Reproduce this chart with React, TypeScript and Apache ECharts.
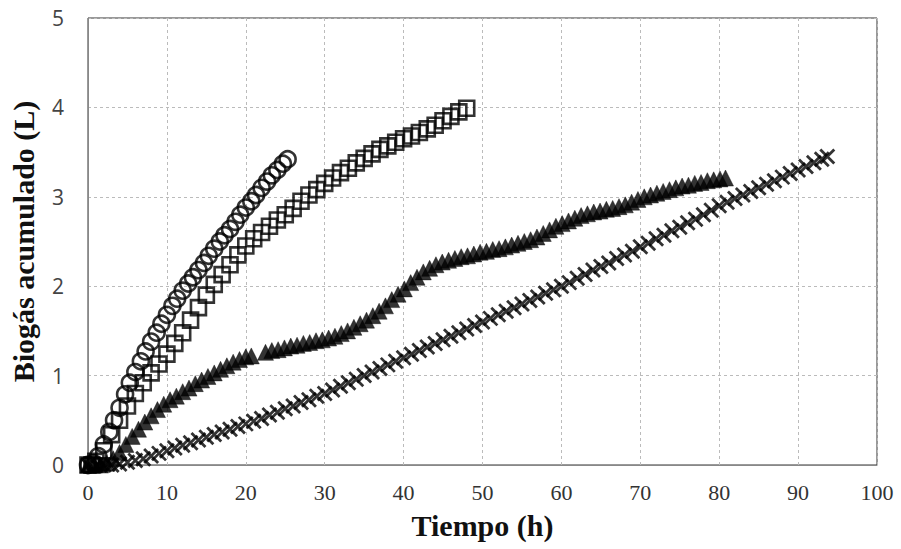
import React, { useEffect, useRef } from "react";
import * as echarts from "echarts";

const xTicks = [0, 10, 20, 30, 40, 50, 60, 70, 80, 90, 100];
const yTicks = [0, 1, 2, 3, 4, 5];

// Open circles
const circleData: number[][] = [
  [0, 0], [0.7, 0.02], [1.3, 0.1], [2, 0.23], [2.7, 0.37], [3.3, 0.5], [4, 0.64], [4.7, 0.79],
  [5.3, 0.92], [6, 1.04], [6.7, 1.16], [7.3, 1.27], [8, 1.38], [8.7, 1.48], [9.3, 1.58], [10, 1.68],
  [10.7, 1.78], [11.3, 1.86], [12, 1.95], [12.7, 2.03], [13.3, 2.1], [14, 2.18], [14.7, 2.26],
  [15.3, 2.34], [16, 2.42], [16.7, 2.5], [17.3, 2.57], [18, 2.64], [18.7, 2.72], [19.3, 2.8],
  [20, 2.88], [20.7, 2.95], [21.3, 3.02], [22, 3.1], [22.7, 3.17], [23.3, 3.24], [24, 3.3],
  [24.7, 3.37], [25.3, 3.42],
];

// Open squares
const squareData: number[][] = [
  [0, 0], [0.5, 0], [1, 0.04], [2, 0.16], [3, 0.34], [4, 0.5], [5, 0.66], [6, 0.8], [7, 0.92], [8, 1.03],
  [9, 1.13], [10, 1.24], [11, 1.36], [12, 1.48], [13, 1.62], [14, 1.76], [15, 1.9], [16, 2.02],
  [17, 2.13], [18, 2.24], [19, 2.35], [20, 2.45], [21, 2.53], [22, 2.6], [23, 2.67], [24, 2.74],
  [25, 2.8], [26, 2.87], [27, 2.95], [28, 3.02], [29, 3.08], [30, 3.15], [31, 3.21], [32, 3.27],
  [33, 3.32], [34, 3.38], [35, 3.43], [36, 3.48], [37, 3.53], [38, 3.57], [39, 3.61], [40, 3.65],
  [41, 3.68], [42, 3.72], [43, 3.76], [44, 3.8], [45, 3.85], [46, 3.9], [47, 3.95], [48, 3.99],
];

// Filled triangles
const triangleData: number[][] = [
  [0, 0], [0.8, 0], [1.6, 0], [2.4, 0.02], [3.2, 0.07], [4, 0.14], [4.8, 0.23], [5.6, 0.32],
  [6.4, 0.4], [7.2, 0.48], [8, 0.55], [8.8, 0.62], [9.6, 0.68], [10.4, 0.73], [11.2, 0.77],
  [12, 0.82], [12.8, 0.86], [13.6, 0.91], [14.4, 0.95], [15.2, 0.99], [16, 1.03], [16.8, 1.07],
  [17.6, 1.11], [18.4, 1.15], [19.2, 1.18], [20, 1.21], [20.7, 1.22],
  [22.5, 1.26], [23.3, 1.28], [24.1, 1.29], [24.9, 1.31], [25.7, 1.33], [26.5, 1.34], [27.3, 1.36],
  [28.1, 1.37], [28.9, 1.39], [29.7, 1.4], [30.5, 1.42], [31.3, 1.44], [32.1, 1.47], [32.9, 1.5],
  [33.7, 1.54], [34.5, 1.58], [35.3, 1.62], [36.1, 1.67], [36.9, 1.72], [37.7, 1.78], [38.5, 1.85],
  [39.3, 1.91], [40.1, 1.97], [40.9, 2.04], [41.7, 2.1], [42.5, 2.16], [43.3, 2.2], [44.1, 2.24],
  [44.9, 2.27], [45.7, 2.29], [46.5, 2.31], [47.3, 2.33], [48.1, 2.34], [48.9, 2.36], [49.7, 2.38],
  [50.5, 2.39], [51.3, 2.41], [52.1, 2.42], [52.9, 2.44], [53.7, 2.46], [54.5, 2.48], [55.3, 2.5],
  [56.1, 2.52], [56.9, 2.55], [57.7, 2.59], [58.5, 2.63], [59.3, 2.67], [60.1, 2.7], [60.9, 2.73],
  [61.7, 2.76], [62.5, 2.79], [63.3, 2.81], [64.1, 2.83], [64.9, 2.84], [65.7, 2.86], [66.5, 2.87],
  [67.3, 2.89], [68.1, 2.91], [68.9, 2.94], [69.7, 2.97], [70.5, 3.0], [71.3, 3.02], [72.1, 3.04],
  [72.9, 3.06], [73.7, 3.08], [74.5, 3.1], [75.3, 3.12], [76.1, 3.13], [76.9, 3.15], [77.7, 3.16],
  [78.5, 3.18], [79.3, 3.19], [80.1, 3.2], [80.8, 3.21],
];

// Crosses
const crossData: number[][] = [
  [0, 0], [1, 0], [2, 0], [3, 0], [4, 0.01], [5, 0.03], [6, 0.05], [7, 0.07], [8, 0.1], [9, 0.13],
  [10, 0.16], [11, 0.19], [12, 0.22], [13, 0.25], [14, 0.28], [15, 0.31], [16, 0.34], [17, 0.37],
  [18, 0.4], [19, 0.43], [20, 0.46], [21, 0.49], [22, 0.52], [23, 0.56], [24, 0.59], [25, 0.63],
  [26, 0.66], [27, 0.7], [28, 0.73], [29, 0.77], [30, 0.8], [31, 0.84], [32, 0.88], [33, 0.92],
  [34, 0.96], [35, 1.0], [36, 1.04], [37, 1.08], [38, 1.12], [39, 1.16], [40, 1.2], [41, 1.24],
  [42, 1.28], [43, 1.32], [44, 1.36], [45, 1.4], [46, 1.44], [47, 1.48], [48, 1.52], [49, 1.56],
  [50, 1.6], [51, 1.64], [52, 1.68], [53, 1.72], [54, 1.76], [55, 1.8], [56, 1.84], [57, 1.88],
  [58, 1.92], [59, 1.96], [60, 2.0], [61, 2.04], [62, 2.09], [63, 2.13], [64, 2.18], [65, 2.22],
  [66, 2.26], [67, 2.31], [68, 2.35], [69, 2.39], [70, 2.44], [71, 2.48], [72, 2.53], [73, 2.57],
  [74, 2.62], [75, 2.66], [76, 2.71], [77, 2.75], [78, 2.8], [79, 2.85], [80, 2.9], [81, 2.94],
  [82, 2.98], [83, 3.02], [84, 3.06], [85, 3.1], [86, 3.14], [87, 3.18], [88, 3.22], [89, 3.26],
  [90, 3.3], [91, 3.34], [92, 3.38], [93, 3.42], [93.7, 3.45],
];

const xTitle = "Tiempo (h)";
const yTitle = "Biogás acumulado (L)";

export default function App() {
  const ref = useRef<HTMLDivElement>(null);
  useEffect(() => {
    if (!ref.current) return;
    const chart = echarts.init(ref.current, undefined, { renderer: "svg" });
    const stroke = "#000";
    chart.setOption({
      animation: false,
      backgroundColor: "#fff",
      grid: {
        left: 88,
        right: 24,
        top: 18,
        bottom: 84,
        show: true,
        borderColor: "#333",
        borderWidth: 1,
        outerBoundsMode: "none",
      },
      xAxis: {
        type: "value",
        min: xTicks[0],
        max: xTicks[xTicks.length - 1],
        interval: 10,
        name: xTitle,
        nameLocation: "middle",
        nameGap: 45,
        nameTextStyle: {
          fontFamily: "Liberation Serif",
          fontWeight: "bold",
          fontSize: 30,
          color: "#111",
        },
        axisLine: { show: true, lineStyle: { color: "#888", width: 1 } },
        axisTick: { show: false },
        axisLabel: {
          fontFamily: "Liberation Serif",
          fontSize: 22,
          color: "#333",
          margin: 16,
        },
        splitLine: { show: true, lineStyle: { color: "#bbb", type: [3, 3], width: 1 } },
      },
      yAxis: {
        type: "value",
        min: yTicks[0],
        max: yTicks[yTicks.length - 1],
        interval: 1,
        name: yTitle,
        nameLocation: "middle",
        nameGap: 50,
        nameTextStyle: {
          fontFamily: "Liberation Serif",
          fontWeight: "bold",
          fontSize: 30,
          color: "#111",
        },
        axisLine: { show: true, lineStyle: { color: "#888", width: 1 } },
        axisTick: { show: false },
        axisLabel: {
          fontFamily: "Open Sans",
          fontSize: 21,
          color: "#444",
          margin: 24,
        },
        splitLine: { show: true, lineStyle: { color: "#bbb", type: [3, 3], width: 1 } },
      },
      series: [
        {
          type: "scatter",
          data: crossData,
          symbol: "path://M0 0L10 10M10 0L0 10",
          symbolSize: 14,
          itemStyle: { color: "rgba(0,0,0,0)", borderColor: stroke, borderWidth: 2.8 },
        },
        {
          type: "scatter",
          data: triangleData,
          symbol: "triangle",
          symbolSize: 16,
          itemStyle: { color: stroke, borderColor: stroke, borderWidth: 0.5 },
        },
        {
          type: "scatter",
          data: squareData,
          symbol: "rect",
          symbolSize: 15,
          itemStyle: { color: "rgba(0,0,0,0)", borderColor: stroke, borderWidth: 2.6 },
        },
        {
          type: "scatter",
          data: circleData,
          symbol: "circle",
          symbolSize: 16,
          itemStyle: { color: "rgba(0,0,0,0)", borderColor: stroke, borderWidth: 2.6 },
        },
      ],
    });
    return () => chart.dispose();
  }, []);
  return (
    <div
      ref={ref}
      style={{ position: "fixed", left: 0, top: 0, width: 901, height: 549, background: "#fff" }}
    />
  );
}
